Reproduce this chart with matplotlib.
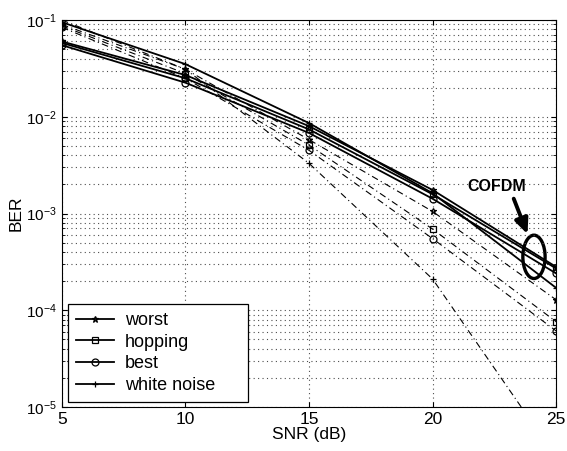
import matplotlib.pyplot as plt
import numpy as np
from matplotlib.patches import Ellipse

plt.rcParams['font.family'] = ['Liberation Sans', 'DejaVu Sans']

snr = [5, 10, 15, 20, 25]

# COFDM (solid)
cofdm_worst = [0.060, 0.027, 0.0080, 0.00175, 0.00028]
cofdm_hopping = [0.058, 0.025, 0.0074, 0.00158, 0.00027]
cofdm_best = [0.055, 0.0225, 0.0068, 0.00142, 0.00024]
cofdm_white = [0.095, 0.035, 0.0086, 0.00162, 0.00017]

# uncoded (dash-dot)
ofdm_worst = [0.090, 0.031, 0.0058, 0.00105, 0.000128]
ofdm_hopping = [0.087, 0.028, 0.0051, 0.00069, 0.000076]
ofdm_best = [0.084, 0.025, 0.0045, 0.00055, 0.000061]
ofdm_white = [0.100, 0.031, 0.0033, 0.00021, 0.000003]

labels = ['worst', 'hopping', 'best', 'white noise']
markers = ['*', 's', 'o', '+']

fig = plt.figure(figsize=(5.67, 4.51), dpi=100)
ax = fig.add_axes([0.109, 0.0976, 0.872, 0.858])

solid = [cofdm_worst, cofdm_hopping, cofdm_best, cofdm_white]
dashdot = [ofdm_worst, ofdm_hopping, ofdm_best, ofdm_white]

for vals, m, lab in zip(solid, markers, labels):
    ax.semilogy(snr, vals, '-', color='k', lw=1.3, marker=m, ms=5,
                mfc='none', mew=0.9, label=lab)
for vals, m in zip(dashdot, markers):
    ax.semilogy(snr, vals, color='k', lw=0.8, ls=(0, (6, 3, 1, 3)),
                marker=m, ms=5, mfc='none', mew=0.9)

ax.set_xlim(5, 25)
ax.set_ylim(1e-5, 1e-1)
ax.set_xticks(snr)
ax.grid(True, which='major', axis='x', ls=(0, (1, 3)), color='0.3', lw=0.8)
ax.grid(True, which='both', axis='y', ls=(0, (1, 3)), color='0.3', lw=0.8)
ax.tick_params(which='both', direction='in', top=True, right=True)
ax.tick_params(axis='x', labelsize=12.5)
ax.tick_params(axis='y', labelsize=11)
ax.set_xlabel('SNR (dB)', fontsize=12.5, labelpad=0)
ax.set_ylabel('BER', fontsize=12.5, labelpad=2)

leg = ax.legend(loc='lower left', bbox_to_anchor=(0.012, 0.013, 0.364, 0.25),
                mode='expand', fontsize=13, frameon=True, fancybox=False,
                edgecolor='k', framealpha=1, handlelength=2.1,
                handletextpad=0.6, borderaxespad=0, labelspacing=0.25,
                borderpad=0.45)
leg.get_frame().set_linewidth(0.9)

# COFDM annotation
ax.add_patch(Ellipse((0.955, 0.388), 0.045, 0.112, transform=ax.transAxes,
                     fill=False, lw=2.4, color='k'))
ax.annotate('', xy=(0.944, 0.44), xycoords='axes fraction',
            xytext=(0.912, 0.545), textcoords='axes fraction',
            arrowprops=dict(arrowstyle='-|>,head_width=0.4,head_length=0.9',
                            lw=2.8, color='k'))
ax.text(0.88, 0.571, 'COFDM', transform=ax.transAxes, fontsize=11.5,
        fontweight='bold', ha='center', va='center')

fig.savefig('out.png', dpi=100)
